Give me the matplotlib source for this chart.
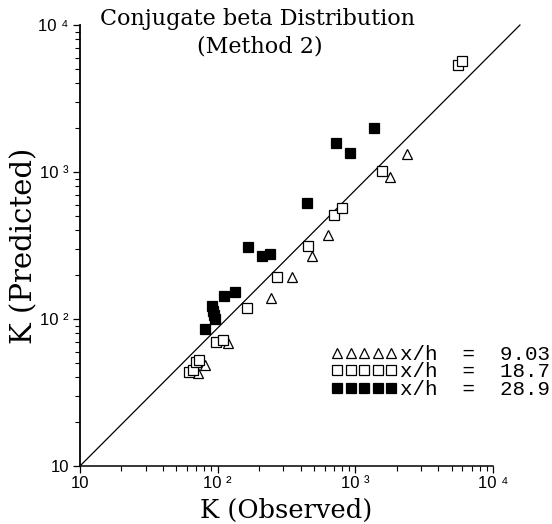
import numpy as np
import matplotlib
matplotlib.use('Agg')
import matplotlib.pyplot as plt
from matplotlib.ticker import FixedLocator, FixedFormatter, LogLocator, NullFormatter

# K observed / K predicted
tri_obs = [72, 81, 119, 243, 348, 484, 635, 1780, 2380]
tri_pred = [43, 49, 69, 138, 194, 268, 372, 930, 1325]

sq_obs = [62, 66, 69.5, 73.5, 97, 109, 163, 268, 455, 700, 803, 1567, 5585, 5913]
sq_pred = [43.6, 45.3, 51.3, 52.6, 69.3, 72, 118, 194, 315, 510, 566, 1021, 5346, 5689]

fill_obs = [81, 90.4, 92.9, 94, 95.5, 111, 134, 165, 209, 240, 448, 720, 914, 1371]
fill_pred = [85, 122.5, 113.7, 106.4, 99.5, 143, 153.5, 310, 270, 277, 618, 1567, 1353, 1982]

labels = ['x/h  =  9.03', 'x/h  =  18.7', 'x/h  =  28.9']

# reference line as drawn on the original
line_x = [10, 15700]
line_y = [10, 10000]

tick_vals = [10, 100, 1000, 10000]
tick_text = ['10', '10 \u00b2', '10 \u00b3', '10 \u2074']

plt.rcParams['font.family'] = ['Liberation Sans', 'DejaVu Sans']

fig = plt.figure(figsize=(5.52, 5.24), dpi=100)
ax = fig.add_axes([0.1449, 0.1107, 0.7482, 0.8416])
ax.set_xscale('log')
ax.set_yscale('log')

ax.plot(line_x, line_y, color='black', lw=0.9, clip_on=False, zorder=1)

h1, = ax.plot(tri_obs, tri_pred, ls='none', marker='^', ms=7.5, mfc='white',
              mec='black', mew=0.9, zorder=3)
h2, = ax.plot(sq_obs, sq_pred, ls='none', marker='s', ms=6.8, mfc='white',
              mec='black', mew=0.9, zorder=3)
h3, = ax.plot(fill_obs, fill_pred, ls='none', marker='s', ms=6.8, mfc='black',
              mec='black', mew=0.9, zorder=3)

ax.set_xlim(10, 1e4)
ax.set_ylim(10, 1e4)

for axis in (ax.xaxis, ax.yaxis):
    axis.set_major_locator(FixedLocator(tick_vals))
    axis.set_major_formatter(FixedFormatter(tick_text))
    axis.set_minor_locator(LogLocator(base=10, subs=np.arange(2, 10)))
    axis.set_minor_formatter(NullFormatter())

ax.tick_params(which='major', direction='out', length=5, width=0.9, labelsize=12)
ax.tick_params(which='minor', direction='out', length=3.5, width=0.8)
ax.tick_params(axis='x', pad=2)
ax.tick_params(axis='y', pad=3)

ax.spines['top'].set_visible(False)
ax.spines['right'].set_visible(False)
ax.spines['left'].set_linewidth(1.3)
ax.spines['bottom'].set_linewidth(1.1)

ax.set_xlabel('K (Observed)', family='DejaVu Serif', fontsize=18.5)
ax.set_ylabel('K (Predicted)', family='DejaVu Serif', fontsize=21)
ax.xaxis.set_label_coords(0.5, -0.072)
ax.yaxis.set_label_coords(-0.10, 0.5)

fig.text(258 / 552, 1 - 25 / 524, 'Conjugate beta Distribution',
         family='DejaVu Serif', fontsize=16, ha='center', va='baseline')
fig.text(260 / 552, 1 - 52 / 524, '(Method 2)',
         family='DejaVu Serif', fontsize=16, ha='center', va='baseline')

fig.legend([h1, h2, h3], labels, loc='center left',
           bbox_to_anchor=(331 / 552, 1 - 372 / 524), numpoints=5,
           handlelength=3.2, handletextpad=0.1, labelspacing=-0.08,
           frameon=False, borderpad=0, borderaxespad=0,
           prop={'family': 'Liberation Mono', 'size': 15})

fig.savefig('out.png', dpi=100, facecolor='white')
